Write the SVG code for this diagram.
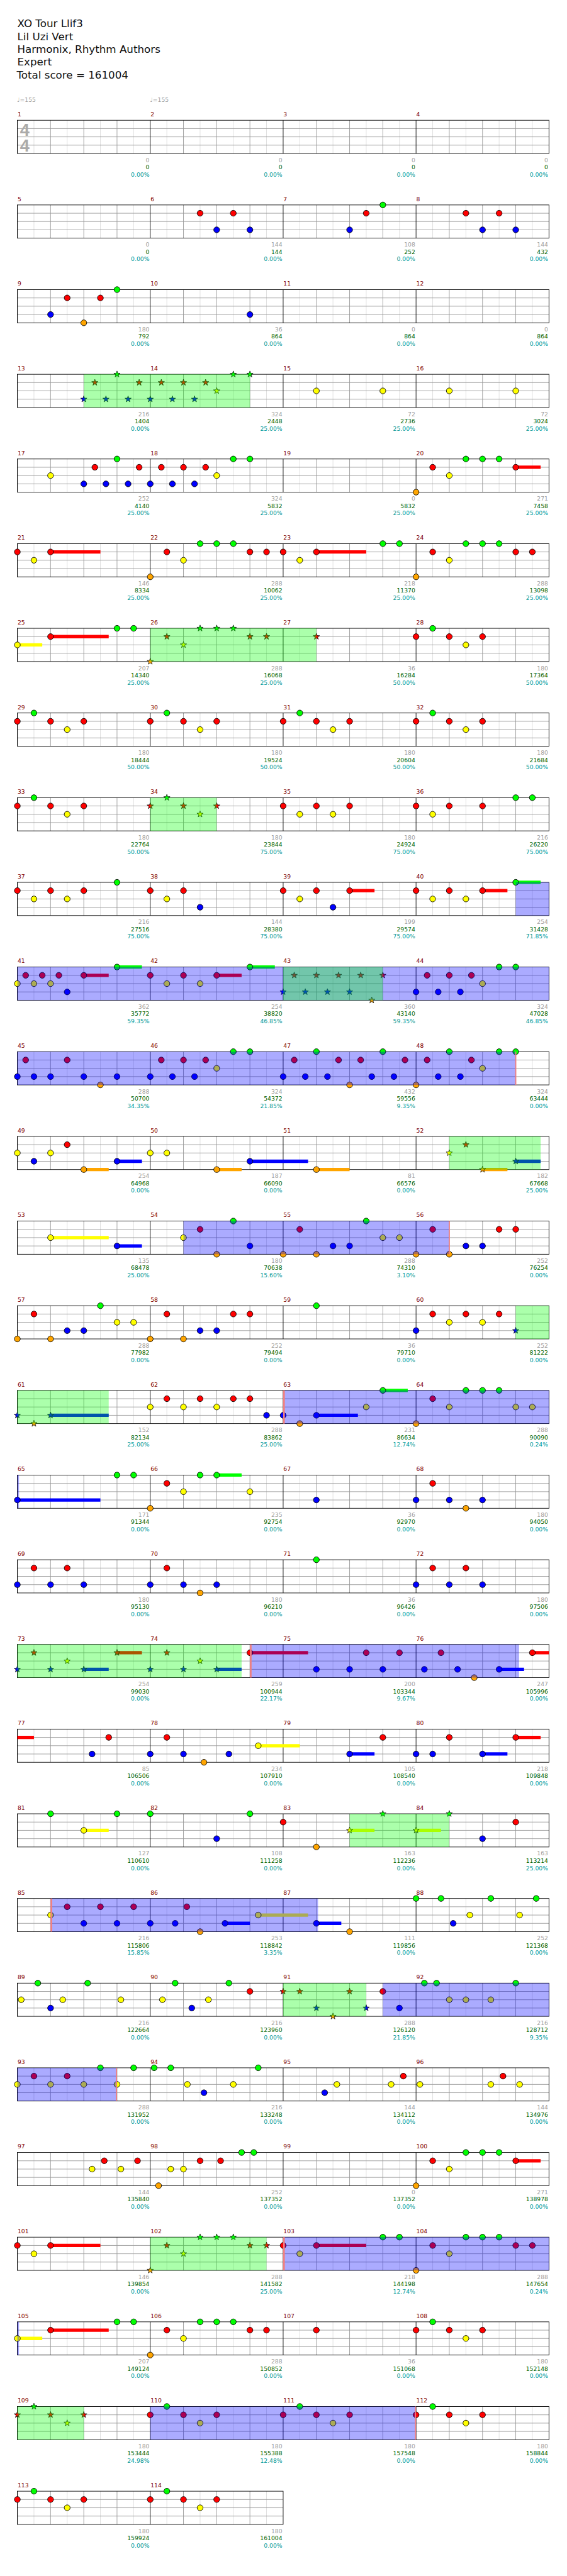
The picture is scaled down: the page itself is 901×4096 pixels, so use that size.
<svg xmlns="http://www.w3.org/2000/svg" xmlns:xlink="http://www.w3.org/1999/xlink" width="901" height="4096" viewBox="0 0 901 4096">
<style>
.t{font:19px "DejaVu Sans",sans-serif;fill:#111}
.tm{font:10.5px "DejaVu Sans",sans-serif;fill:#a0a0a0}
.mn{font:10.5px "DejaVu Sans",sans-serif;fill:#800000}
.a,.c,.p{font:10.5px "DejaVu Sans",sans-serif;text-anchor:end}
.a{fill:#a0a0a0}.c{fill:#006400}.p{fill:#009a9a}
.ts{font:bold 31px "Liberation Sans",sans-serif;fill:#aaa;text-anchor:middle}
.sp{fill:#0f0;fill-opacity:.33}
.so{fill:#00f;fill-opacity:.33}
.pk{fill:#f08080}
.kG,.kR,.kY,.kB,.kO{stroke-width:6;fill:none}
.kG{stroke:#0f0}.kR{stroke:#f00}.kY{stroke:#ff0}.kB{stroke:#00f}.kO{stroke:#ffa500}
</style>
<defs>
<g id="gm">
<path d="M30 0V60M90 0V60M150 0V60M210 0V60" stroke="#ddd"/>
<path d="M60 0V60M120 0V60M180 0V60M0 15H240M0 30H240M0 45H240" stroke="#999"/>
<path d="M0 0V60" stroke="#000"/>
</g>
<g id="g4"><use href="#gm"/><use href="#gm" x="240"/><use href="#gm" x="480"/><use href="#gm" x="720"/><rect width="960" height="60" fill="none" stroke="#000"/></g>
<g id="g2"><use href="#gm"/><use href="#gm" x="240"/><rect width="480" height="60" fill="none" stroke="#000"/></g>
<circle id="nc" r="5.3" stroke="#000"/>
<use id="G" href="#nc" fill="#0f0"/>
<use id="R" href="#nc" y="15" fill="#f00"/>
<use id="Y" href="#nc" y="30" fill="#ff0"/>
<use id="B" href="#nc" y="45" fill="#00f"/>
<use id="O" href="#nc" y="60" fill="#ffa500"/>
<polygon id="st" points="0,-6 1.41,-1.94 5.71,-1.85 2.28,0.74 3.53,4.85 0,2.4 -3.53,4.85 -2.28,0.74 -5.71,-1.85 -1.41,-1.94" stroke="#000" stroke-width=".8"/>
<use id="sG" href="#st" fill="#0f0"/>
<use id="sR" href="#st" y="15" fill="#f00"/>
<use id="sY" href="#st" y="30" fill="#ff0"/>
<use id="sB" href="#st" y="45" fill="#00f"/>
<use id="sO" href="#st" y="60" fill="#ffa500"/>
</defs>
<rect width="901" height="4096" fill="#fff"/>
<g transform="scale(0.88)">
<g id="header">
<text class="t" x="31.3" y="49.3">XO Tour Llif3</text>
<text class="t" x="31.3" y="72.3">Lil Uzi Vert</text>
<text class="t" x="31.3" y="95.3">Harmonix, Rhythm Authors</text>
<text class="t" x="31.3" y="118.3">Expert</text>
<text class="t" x="30" y="141.7">Total score = 161004</text>
<text class="tm" x="31" y="184">♩=155</text>
<text class="tm" x="271" y="184">♩=155</text>
</g>

<g id="row1" transform="translate(31.3,217.3)">
<use href="#g4"/>
<text class="ts" x="13.4" y="27.7">4</text><text class="ts" x="13.4" y="56.7">4</text>
<text class="mn" x=".5" y="-7">1</text><text class="mn" x="240.5" y="-7">2</text><text class="mn" x="480.5" y="-7">3</text><text class="mn" x="720.5" y="-7">4</text>
<text class="a" x="238.5" y="75.5">0</text><text class="c" x="238.5" y="88.5">0</text><text class="p" x="238.5" y="101.7">0.00%</text>
<text class="a" x="478.5" y="75.5">0</text><text class="c" x="478.5" y="88.5">0</text><text class="p" x="478.5" y="101.7">0.00%</text>
<text class="a" x="718.5" y="75.5">0</text><text class="c" x="718.5" y="88.5">0</text><text class="p" x="718.5" y="101.7">0.00%</text>
<text class="a" x="958.5" y="75.5">0</text><text class="c" x="958.5" y="88.5">0</text><text class="p" x="958.5" y="101.7">0.00%</text>
</g>

<g id="row2" transform="translate(31.3,370.3)">
<use href="#g4"/>
<use href="#R" x="330"/><use href="#R" x="390"/><use href="#B" x="360"/><use href="#B" x="420"/><use href="#B" x="600"/><use href="#R" x="630"/><use href="#G" x="660"/><use href="#R" x="810"/><use href="#R" x="870"/><use href="#B" x="840"/><use href="#B" x="900"/>
<text class="mn" x=".5" y="-7">5</text><text class="mn" x="240.5" y="-7">6</text><text class="mn" x="480.5" y="-7">7</text><text class="mn" x="720.5" y="-7">8</text>
<text class="a" x="238.5" y="75.5">0</text><text class="c" x="238.5" y="88.5">0</text><text class="p" x="238.5" y="101.7">0.00%</text>
<text class="a" x="478.5" y="75.5">144</text><text class="c" x="478.5" y="88.5">144</text><text class="p" x="478.5" y="101.7">0.00%</text>
<text class="a" x="718.5" y="75.5">108</text><text class="c" x="718.5" y="88.5">252</text><text class="p" x="718.5" y="101.7">0.00%</text>
<text class="a" x="958.5" y="75.5">144</text><text class="c" x="958.5" y="88.5">432</text><text class="p" x="958.5" y="101.7">0.00%</text>
</g>

<g id="row3" transform="translate(31.3,523.3)">
<use href="#g4"/>
<use href="#B" x="60"/><use href="#R" x="90"/><use href="#O" x="120"/><use href="#R" x="150"/><use href="#G" x="180"/><use href="#B" x="420"/>
<text class="mn" x=".5" y="-7">9</text><text class="mn" x="240.5" y="-7">10</text><text class="mn" x="480.5" y="-7">11</text><text class="mn" x="720.5" y="-7">12</text>
<text class="a" x="238.5" y="75.5">180</text><text class="c" x="238.5" y="88.5">792</text><text class="p" x="238.5" y="101.7">0.00%</text>
<text class="a" x="478.5" y="75.5">36</text><text class="c" x="478.5" y="88.5">864</text><text class="p" x="478.5" y="101.7">0.00%</text>
<text class="a" x="718.5" y="75.5">0</text><text class="c" x="718.5" y="88.5">864</text><text class="p" x="718.5" y="101.7">0.00%</text>
<text class="a" x="958.5" y="75.5">0</text><text class="c" x="958.5" y="88.5">864</text><text class="p" x="958.5" y="101.7">0.00%</text>
</g>

<g id="row4" transform="translate(31.3,676.3)">
<use href="#g4"/>
<use href="#sB" x="120"/><use href="#sR" x="140"/><use href="#sB" x="160"/><use href="#sG" x="180"/><use href="#sB" x="200"/><use href="#sR" x="220"/><use href="#sB" x="240"/><use href="#sR" x="260"/><use href="#sB" x="280"/><use href="#sR" x="300"/><use href="#sB" x="320"/><use href="#sR" x="340"/><use href="#sY" x="360"/><use href="#sG" x="390"/><use href="#sG" x="420"/>
<use href="#Y" x="540"/><use href="#Y" x="660"/><use href="#Y" x="780"/><use href="#Y" x="900"/>
<rect class="sp" x="120" width="300" height="60"/>
<text class="mn" x=".5" y="-7">13</text><text class="mn" x="240.5" y="-7">14</text><text class="mn" x="480.5" y="-7">15</text><text class="mn" x="720.5" y="-7">16</text>
<text class="a" x="238.5" y="75.5">216</text><text class="c" x="238.5" y="88.5">1404</text><text class="p" x="238.5" y="101.7">0.00%</text>
<text class="a" x="478.5" y="75.5">324</text><text class="c" x="478.5" y="88.5">2448</text><text class="p" x="478.5" y="101.7">25.00%</text>
<text class="a" x="718.5" y="75.5">72</text><text class="c" x="718.5" y="88.5">2736</text><text class="p" x="718.5" y="101.7">25.00%</text>
<text class="a" x="958.5" y="75.5">72</text><text class="c" x="958.5" y="88.5">3024</text><text class="p" x="958.5" y="101.7">25.00%</text>
</g>

<g id="row5" transform="translate(31.3,829.3)">
<use href="#g4"/>
<path class="kR" d="M900 15H945"/>
<use href="#Y" x="60"/><use href="#B" x="120"/><use href="#R" x="140"/><use href="#B" x="160"/><use href="#G" x="180"/><use href="#B" x="200"/><use href="#R" x="220"/><use href="#B" x="240"/><use href="#R" x="260"/><use href="#B" x="280"/><use href="#R" x="300"/><use href="#B" x="320"/><use href="#R" x="340"/><use href="#Y" x="360"/><use href="#G" x="390"/><use href="#G" x="420"/>
<use href="#O" x="720"/><use href="#R" x="750"/><use href="#Y" x="780"/><use href="#G" x="810"/><use href="#G" x="840"/><use href="#G" x="870"/><use href="#R" x="900"/>
<text class="mn" x=".5" y="-7">17</text><text class="mn" x="240.5" y="-7">18</text><text class="mn" x="480.5" y="-7">19</text><text class="mn" x="720.5" y="-7">20</text>
<text class="a" x="238.5" y="75.5">252</text><text class="c" x="238.5" y="88.5">4140</text><text class="p" x="238.5" y="101.7">25.00%</text>
<text class="a" x="478.5" y="75.5">324</text><text class="c" x="478.5" y="88.5">5832</text><text class="p" x="478.5" y="101.7">25.00%</text>
<text class="a" x="718.5" y="75.5">0</text><text class="c" x="718.5" y="88.5">5832</text><text class="p" x="718.5" y="101.7">25.00%</text>
<text class="a" x="958.5" y="75.5">271</text><text class="c" x="958.5" y="88.5">7458</text><text class="p" x="958.5" y="101.7">25.00%</text>
</g>

<g id="row6" transform="translate(31.3,982.3)">
<use href="#g4"/>
<path class="kR" d="M60 15H150M540 15H630"/>
<use href="#R" x="0"/><use href="#Y" x="30"/><use href="#R" x="60"/><use href="#O" x="240"/><use href="#R" x="270"/><use href="#Y" x="300"/><use href="#G" x="330"/><use href="#G" x="360"/><use href="#G" x="390"/><use href="#R" x="420"/><use href="#R" x="450"/>
<use href="#R" x="480"/><use href="#Y" x="510"/><use href="#R" x="540"/><use href="#G" x="660"/><use href="#G" x="690"/>
<use href="#O" x="720"/><use href="#R" x="750"/><use href="#Y" x="780"/><use href="#G" x="810"/><use href="#G" x="840"/><use href="#G" x="870"/><use href="#R" x="900"/><use href="#R" x="930"/>
<text class="mn" x=".5" y="-7">21</text><text class="mn" x="240.5" y="-7">22</text><text class="mn" x="480.5" y="-7">23</text><text class="mn" x="720.5" y="-7">24</text>
<text class="a" x="238.5" y="75.5">146</text><text class="c" x="238.5" y="88.5">8334</text><text class="p" x="238.5" y="101.7">25.00%</text>
<text class="a" x="478.5" y="75.5">288</text><text class="c" x="478.5" y="88.5">10062</text><text class="p" x="478.5" y="101.7">25.00%</text>
<text class="a" x="718.5" y="75.5">218</text><text class="c" x="718.5" y="88.5">11370</text><text class="p" x="718.5" y="101.7">25.00%</text>
<text class="a" x="958.5" y="75.5">288</text><text class="c" x="958.5" y="88.5">13098</text><text class="p" x="958.5" y="101.7">25.00%</text>
</g>

<g id="row7" transform="translate(31.3,1135.3)">
<use href="#g4"/>
<path class="kY" d="M0 30H45"/><path class="kR" d="M60 15H165"/>
<use href="#Y" x="0"/><use href="#R" x="60"/><use href="#G" x="180"/><use href="#G" x="210"/>
<use href="#sO" x="240"/><use href="#sR" x="270"/><use href="#sY" x="300"/><use href="#sG" x="330"/><use href="#sG" x="360"/><use href="#sG" x="390"/><use href="#sR" x="420"/><use href="#sR" x="450"/><use href="#sR" x="540"/>
<use href="#R" x="720"/><use href="#G" x="750"/><use href="#R" x="780"/><use href="#Y" x="810"/><use href="#R" x="840"/>
<rect class="sp" x="240" width="300" height="60"/>
<text class="mn" x=".5" y="-7">25</text><text class="mn" x="240.5" y="-7">26</text><text class="mn" x="480.5" y="-7">27</text><text class="mn" x="720.5" y="-7">28</text>
<text class="a" x="238.5" y="75.5">207</text><text class="c" x="238.5" y="88.5">14340</text><text class="p" x="238.5" y="101.7">25.00%</text>
<text class="a" x="478.5" y="75.5">288</text><text class="c" x="478.5" y="88.5">16068</text><text class="p" x="478.5" y="101.7">25.00%</text>
<text class="a" x="718.5" y="75.5">36</text><text class="c" x="718.5" y="88.5">16284</text><text class="p" x="718.5" y="101.7">50.00%</text>
<text class="a" x="958.5" y="75.5">180</text><text class="c" x="958.5" y="88.5">17364</text><text class="p" x="958.5" y="101.7">50.00%</text>
</g>

<g id="row8" transform="translate(31.3,1288.3)">
<use href="#g4"/>
<use href="#R" x="0"/><use href="#G" x="30"/><use href="#R" x="60"/><use href="#Y" x="90"/><use href="#R" x="120"/>
<use href="#R" x="240"/><use href="#G" x="270"/><use href="#R" x="300"/><use href="#Y" x="330"/><use href="#R" x="360"/>
<use href="#R" x="480"/><use href="#G" x="510"/><use href="#R" x="540"/><use href="#Y" x="570"/><use href="#R" x="600"/>
<use href="#R" x="720"/><use href="#G" x="750"/><use href="#R" x="780"/><use href="#Y" x="810"/><use href="#R" x="840"/>
<text class="mn" x=".5" y="-7">29</text><text class="mn" x="240.5" y="-7">30</text><text class="mn" x="480.5" y="-7">31</text><text class="mn" x="720.5" y="-7">32</text>
<text class="a" x="238.5" y="75.5">180</text><text class="c" x="238.5" y="88.5">18444</text><text class="p" x="238.5" y="101.7">50.00%</text>
<text class="a" x="478.5" y="75.5">180</text><text class="c" x="478.5" y="88.5">19524</text><text class="p" x="478.5" y="101.7">50.00%</text>
<text class="a" x="718.5" y="75.5">180</text><text class="c" x="718.5" y="88.5">20604</text><text class="p" x="718.5" y="101.7">50.00%</text>
<text class="a" x="958.5" y="75.5">180</text><text class="c" x="958.5" y="88.5">21684</text><text class="p" x="958.5" y="101.7">50.00%</text>
</g>

<g id="row9" transform="translate(31.3,1441.3)">
<use href="#g4"/>
<use href="#R" x="0"/><use href="#G" x="30"/><use href="#R" x="60"/><use href="#Y" x="90"/><use href="#R" x="120"/>
<use href="#sR" x="240"/><use href="#sG" x="270"/><use href="#sR" x="300"/><use href="#sY" x="330"/><use href="#sR" x="360"/>
<use href="#R" x="480"/><use href="#Y" x="510"/><use href="#R" x="540"/><use href="#Y" x="570"/><use href="#R" x="600"/>
<use href="#R" x="720"/><use href="#Y" x="750"/><use href="#R" x="780"/><use href="#R" x="840"/><use href="#G" x="900"/><use href="#G" x="930"/>
<rect class="sp" x="240" width="120" height="60"/>
<text class="mn" x=".5" y="-7">33</text><text class="mn" x="240.5" y="-7">34</text><text class="mn" x="480.5" y="-7">35</text><text class="mn" x="720.5" y="-7">36</text>
<text class="a" x="238.5" y="75.5">180</text><text class="c" x="238.5" y="88.5">22764</text><text class="p" x="238.5" y="101.7">50.00%</text>
<text class="a" x="478.5" y="75.5">180</text><text class="c" x="478.5" y="88.5">23844</text><text class="p" x="478.5" y="101.7">75.00%</text>
<text class="a" x="718.5" y="75.5">180</text><text class="c" x="718.5" y="88.5">24924</text><text class="p" x="718.5" y="101.7">75.00%</text>
<text class="a" x="958.5" y="75.5">216</text><text class="c" x="958.5" y="88.5">26220</text><text class="p" x="958.5" y="101.7">75.00%</text>
</g>

<g id="row10" transform="translate(31.3,1594.3)">
<use href="#g4"/>
<path class="kR" d="M600 15H645M840 15H885"/><path class="kG" d="M900 0H945"/>
<use href="#R" x="0"/><use href="#Y" x="30"/><use href="#R" x="60"/><use href="#Y" x="90"/><use href="#R" x="120"/><use href="#G" x="180"/>
<use href="#R" x="240"/><use href="#Y" x="270"/><use href="#R" x="300"/><use href="#B" x="330"/>
<use href="#R" x="480"/><use href="#Y" x="510"/><use href="#R" x="540"/><use href="#B" x="570"/><use href="#R" x="600"/>
<use href="#R" x="720"/><use href="#Y" x="750"/><use href="#R" x="780"/><use href="#Y" x="810"/><use href="#R" x="840"/><use href="#G" x="900"/>
<rect class="so" x="900" width="60" height="60"/>
<text class="mn" x=".5" y="-7">37</text><text class="mn" x="240.5" y="-7">38</text><text class="mn" x="480.5" y="-7">39</text><text class="mn" x="720.5" y="-7">40</text>
<text class="a" x="238.5" y="75.5">216</text><text class="c" x="238.5" y="88.5">27516</text><text class="p" x="238.5" y="101.7">75.00%</text>
<text class="a" x="478.5" y="75.5">144</text><text class="c" x="478.5" y="88.5">28380</text><text class="p" x="478.5" y="101.7">75.00%</text>
<text class="a" x="718.5" y="75.5">199</text><text class="c" x="718.5" y="88.5">29574</text><text class="p" x="718.5" y="101.7">75.00%</text>
<text class="a" x="958.5" y="75.5">254</text><text class="c" x="958.5" y="88.5">31428</text><text class="p" x="958.5" y="101.7">71.85%</text>
</g>

<g id="row11" transform="translate(31.3,1747.3)">
<use href="#g4"/>
<path class="kR" d="M120 15H165M360 15H405"/><path class="kG" d="M180 0H225M420 0H465"/>
<use href="#Y" x="0"/><use href="#R" x="15"/><use href="#Y" x="30"/><use href="#R" x="45"/><use href="#Y" x="60"/><use href="#R" x="75"/><use href="#B" x="90"/><use href="#R" x="120"/><use href="#G" x="180"/>
<use href="#R" x="240"/><use href="#Y" x="270"/><use href="#R" x="300"/><use href="#Y" x="330"/><use href="#R" x="360"/><use href="#G" x="420"/>
<use href="#sB" x="480"/><use href="#sR" x="500"/><use href="#sB" x="520"/><use href="#sR" x="540"/><use href="#sB" x="560"/><use href="#sR" x="580"/><use href="#sB" x="600"/><use href="#sR" x="620"/><use href="#sO" x="640"/><use href="#sR" x="660"/>
<use href="#B" x="720"/><use href="#R" x="740"/><use href="#B" x="760"/><use href="#R" x="780"/><use href="#B" x="800"/><use href="#R" x="820"/><use href="#Y" x="840"/><use href="#G" x="870"/><use href="#G" x="900"/>
<rect class="so" width="960" height="60"/>
<rect class="sp" x="480" width="180" height="60"/>
<text class="mn" x=".5" y="-7">41</text><text class="mn" x="240.5" y="-7">42</text><text class="mn" x="480.5" y="-7">43</text><text class="mn" x="720.5" y="-7">44</text>
<text class="a" x="238.5" y="75.5">362</text><text class="c" x="238.5" y="88.5">35772</text><text class="p" x="238.5" y="101.7">59.35%</text>
<text class="a" x="478.5" y="75.5">254</text><text class="c" x="478.5" y="88.5">38820</text><text class="p" x="478.5" y="101.7">46.85%</text>
<text class="a" x="718.5" y="75.5">360</text><text class="c" x="718.5" y="88.5">43140</text><text class="p" x="718.5" y="101.7">59.35%</text>
<text class="a" x="958.5" y="75.5">324</text><text class="c" x="958.5" y="88.5">47028</text><text class="p" x="958.5" y="101.7">46.85%</text>
</g>

<g id="row12" transform="translate(31.3,1900.3)">
<use href="#g4"/>
<use href="#B" x="0"/><use href="#R" x="15"/><use href="#B" x="30"/><use href="#B" x="60"/><use href="#R" x="90"/><use href="#B" x="120"/><use href="#O" x="150"/><use href="#B" x="180"/>
<use href="#B" x="240"/><use href="#R" x="260"/><use href="#B" x="280"/><use href="#R" x="300"/><use href="#B" x="320"/><use href="#R" x="340"/><use href="#Y" x="360"/><use href="#G" x="390"/><use href="#G" x="420"/>
<use href="#B" x="480"/><use href="#R" x="500"/><use href="#B" x="520"/><use href="#G" x="540"/><use href="#B" x="560"/><use href="#R" x="580"/><use href="#O" x="600"/><use href="#R" x="620"/><use href="#B" x="640"/><use href="#G" x="660"/><use href="#B" x="680"/><use href="#R" x="700"/>
<use href="#O" x="720"/><use href="#R" x="740"/><use href="#B" x="760"/><use href="#G" x="780"/><use href="#B" x="800"/><use href="#R" x="820"/><use href="#Y" x="840"/><use href="#G" x="870"/><use href="#G" x="900"/>
<rect class="so" width="900" height="60"/><rect class="pk" x="899" width="2" height="60"/>
<text class="mn" x=".5" y="-7">45</text><text class="mn" x="240.5" y="-7">46</text><text class="mn" x="480.5" y="-7">47</text><text class="mn" x="720.5" y="-7">48</text>
<text class="a" x="238.5" y="75.5">288</text><text class="c" x="238.5" y="88.5">50700</text><text class="p" x="238.5" y="101.7">34.35%</text>
<text class="a" x="478.5" y="75.5">324</text><text class="c" x="478.5" y="88.5">54372</text><text class="p" x="478.5" y="101.7">21.85%</text>
<text class="a" x="718.5" y="75.5">432</text><text class="c" x="718.5" y="88.5">59556</text><text class="p" x="718.5" y="101.7">9.35%</text>
<text class="a" x="958.5" y="75.5">324</text><text class="c" x="958.5" y="88.5">63444</text><text class="p" x="958.5" y="101.7">0.00%</text>
</g>

<g id="row13" transform="translate(31.3,2053.3)">
<use href="#g4"/>
<path class="kO" d="M120 60H165M360 60H405M540 60H600M840 60H885"/><path class="kB" d="M180 45H225M420 45H525M900 45H945"/>
<use href="#Y" x="0"/><use href="#B" x="30"/><use href="#Y" x="60"/><use href="#R" x="90"/><use href="#O" x="120"/><use href="#B" x="180"/>
<use href="#Y" x="240"/><use href="#Y" x="270"/><use href="#O" x="360"/><use href="#B" x="420"/><use href="#O" x="540"/>
<use href="#sY" x="780"/><use href="#sR" x="810"/><use href="#sO" x="840"/><use href="#sB" x="900"/>
<rect class="sp" x="780" width="165" height="60"/>
<text class="mn" x=".5" y="-7">49</text><text class="mn" x="240.5" y="-7">50</text><text class="mn" x="480.5" y="-7">51</text><text class="mn" x="720.5" y="-7">52</text>
<text class="a" x="238.5" y="75.5">254</text><text class="c" x="238.5" y="88.5">64968</text><text class="p" x="238.5" y="101.7">0.00%</text>
<text class="a" x="478.5" y="75.5">187</text><text class="c" x="478.5" y="88.5">66090</text><text class="p" x="478.5" y="101.7">0.00%</text>
<text class="a" x="718.5" y="75.5">81</text><text class="c" x="718.5" y="88.5">66576</text><text class="p" x="718.5" y="101.7">0.00%</text>
<text class="a" x="958.5" y="75.5">182</text><text class="c" x="958.5" y="88.5">67668</text><text class="p" x="958.5" y="101.7">25.00%</text>
</g>

<g id="row14" transform="translate(31.3,2206.3)">
<use href="#g4"/>
<path class="kY" d="M60 30H165"/><path class="kB" d="M180 45H225"/>
<use href="#Y" x="60"/><use href="#B" x="180"/>
<use href="#Y" x="300"/><use href="#R" x="330"/><use href="#O" x="360"/><use href="#G" x="390"/><use href="#B" x="420"/>
<use href="#O" x="480"/><use href="#R" x="510"/><use href="#O" x="540"/><use href="#B" x="570"/><use href="#B" x="600"/><use href="#G" x="630"/><use href="#Y" x="660"/><use href="#Y" x="690"/>
<use href="#O" x="720"/><use href="#R" x="750"/><use href="#O" x="780"/><use href="#B" x="810"/><use href="#B" x="840"/><use href="#R" x="870"/><use href="#R" x="900"/>
<rect class="so" x="300" width="480" height="60"/><rect class="pk" x="779" width="2" height="60"/>
<text class="mn" x=".5" y="-7">53</text><text class="mn" x="240.5" y="-7">54</text><text class="mn" x="480.5" y="-7">55</text><text class="mn" x="720.5" y="-7">56</text>
<text class="a" x="238.5" y="75.5">135</text><text class="c" x="238.5" y="88.5">68478</text><text class="p" x="238.5" y="101.7">25.00%</text>
<text class="a" x="478.5" y="75.5">180</text><text class="c" x="478.5" y="88.5">70638</text><text class="p" x="478.5" y="101.7">15.60%</text>
<text class="a" x="718.5" y="75.5">288</text><text class="c" x="718.5" y="88.5">74310</text><text class="p" x="718.5" y="101.7">3.10%</text>
<text class="a" x="958.5" y="75.5">252</text><text class="c" x="958.5" y="88.5">76254</text><text class="p" x="958.5" y="101.7">0.00%</text>
</g>

<g id="row15" transform="translate(31.3,2359.3)">
<use href="#g4"/>
<use href="#O" x="0"/><use href="#R" x="30"/><use href="#O" x="60"/><use href="#B" x="90"/><use href="#B" x="120"/><use href="#G" x="150"/><use href="#Y" x="180"/><use href="#Y" x="210"/>
<use href="#O" x="240"/><use href="#R" x="270"/><use href="#O" x="300"/><use href="#B" x="330"/><use href="#B" x="360"/><use href="#R" x="390"/><use href="#R" x="420"/>
<use href="#G" x="540"/>
<use href="#B" x="720"/><use href="#R" x="750"/><use href="#Y" x="780"/><use href="#R" x="810"/><use href="#Y" x="840"/><use href="#R" x="870"/><use href="#sB" x="900"/>
<rect class="sp" x="900" width="60" height="60"/>
<text class="mn" x=".5" y="-7">57</text><text class="mn" x="240.5" y="-7">58</text><text class="mn" x="480.5" y="-7">59</text><text class="mn" x="720.5" y="-7">60</text>
<text class="a" x="238.5" y="75.5">288</text><text class="c" x="238.5" y="88.5">77982</text><text class="p" x="238.5" y="101.7">0.00%</text>
<text class="a" x="478.5" y="75.5">252</text><text class="c" x="478.5" y="88.5">79494</text><text class="p" x="478.5" y="101.7">0.00%</text>
<text class="a" x="718.5" y="75.5">36</text><text class="c" x="718.5" y="88.5">79710</text><text class="p" x="718.5" y="101.7">0.00%</text>
<text class="a" x="958.5" y="75.5">252</text><text class="c" x="958.5" y="88.5">81222</text><text class="p" x="958.5" y="101.7">0.00%</text>
</g>

<g id="row16" transform="translate(31.3,2512.3)">
<use href="#g4"/>
<path class="kB" d="M60 45H165M540 45H615"/><path class="kG" d="M660 0H705"/>
<use href="#sB" x="0"/><use href="#sO" x="30"/><use href="#sB" x="60"/>
<use href="#Y" x="240"/><use href="#R" x="270"/><use href="#Y" x="300"/><use href="#R" x="330"/><use href="#Y" x="360"/><use href="#R" x="390"/><use href="#R" x="420"/><use href="#B" x="450"/><use href="#B" x="480"/>
<use href="#O" x="510"/><use href="#B" x="540"/><use href="#Y" x="630"/><use href="#G" x="660"/>
<use href="#O" x="720"/><use href="#R" x="750"/><use href="#Y" x="780"/><use href="#G" x="810"/><use href="#G" x="840"/><use href="#G" x="870"/><use href="#Y" x="900"/><use href="#Y" x="930"/>
<rect class="sp" width="165" height="60"/>
<rect class="so" x="480" width="480" height="60"/><rect class="pk" x="480" width="3" height="60"/>
<text class="mn" x=".5" y="-7">61</text><text class="mn" x="240.5" y="-7">62</text><text class="mn" x="480.5" y="-7">63</text><text class="mn" x="720.5" y="-7">64</text>
<text class="a" x="238.5" y="75.5">152</text><text class="c" x="238.5" y="88.5">82134</text><text class="p" x="238.5" y="101.7">25.00%</text>
<text class="a" x="478.5" y="75.5">288</text><text class="c" x="478.5" y="88.5">83862</text><text class="p" x="478.5" y="101.7">25.00%</text>
<text class="a" x="718.5" y="75.5">231</text><text class="c" x="718.5" y="88.5">86634</text><text class="p" x="718.5" y="101.7">12.74%</text>
<text class="a" x="958.5" y="75.5">288</text><text class="c" x="958.5" y="88.5">90090</text><text class="p" x="958.5" y="101.7">0.24%</text>
</g>

<g id="row17" transform="translate(31.3,2665.3)">
<use href="#g4"/>
<path class="kB" d="M0 45H150"/><path class="kG" d="M360 0H405"/>
<use href="#B" x="0"/><use href="#G" x="180"/><use href="#G" x="210"/>
<use href="#O" x="240"/><use href="#R" x="270"/><use href="#Y" x="300"/><use href="#G" x="330"/><use href="#G" x="360"/><use href="#Y" x="420"/>
<use href="#B" x="540"/>
<use href="#B" x="720"/><use href="#R" x="750"/><use href="#B" x="780"/><use href="#O" x="810"/><use href="#B" x="840"/>
<rect class="so" width="3" height="60"/>
<text class="mn" x=".5" y="-7">65</text><text class="mn" x="240.5" y="-7">66</text><text class="mn" x="480.5" y="-7">67</text><text class="mn" x="720.5" y="-7">68</text>
<text class="a" x="238.5" y="75.5">171</text><text class="c" x="238.5" y="88.5">91344</text><text class="p" x="238.5" y="101.7">0.00%</text>
<text class="a" x="478.5" y="75.5">235</text><text class="c" x="478.5" y="88.5">92754</text><text class="p" x="478.5" y="101.7">0.00%</text>
<text class="a" x="718.5" y="75.5">36</text><text class="c" x="718.5" y="88.5">92970</text><text class="p" x="718.5" y="101.7">0.00%</text>
<text class="a" x="958.5" y="75.5">180</text><text class="c" x="958.5" y="88.5">94050</text><text class="p" x="958.5" y="101.7">0.00%</text>
</g>

<g id="row18" transform="translate(31.3,2818.3)">
<use href="#g4"/>
<use href="#B" x="0"/><use href="#R" x="30"/><use href="#B" x="60"/><use href="#R" x="90"/><use href="#B" x="120"/>
<use href="#B" x="240"/><use href="#R" x="270"/><use href="#B" x="300"/><use href="#O" x="330"/><use href="#B" x="360"/>
<use href="#G" x="540"/>
<use href="#B" x="720"/><use href="#R" x="750"/><use href="#B" x="780"/><use href="#R" x="810"/><use href="#B" x="840"/>
<text class="mn" x=".5" y="-7">69</text><text class="mn" x="240.5" y="-7">70</text><text class="mn" x="480.5" y="-7">71</text><text class="mn" x="720.5" y="-7">72</text>
<text class="a" x="238.5" y="75.5">180</text><text class="c" x="238.5" y="88.5">95130</text><text class="p" x="238.5" y="101.7">0.00%</text>
<text class="a" x="478.5" y="75.5">180</text><text class="c" x="478.5" y="88.5">96210</text><text class="p" x="478.5" y="101.7">0.00%</text>
<text class="a" x="718.5" y="75.5">36</text><text class="c" x="718.5" y="88.5">96426</text><text class="p" x="718.5" y="101.7">0.00%</text>
<text class="a" x="958.5" y="75.5">180</text><text class="c" x="958.5" y="88.5">97506</text><text class="p" x="958.5" y="101.7">0.00%</text>
</g>

<g id="row19" transform="translate(31.3,2971.3)">
<use href="#g4"/>
<path class="kB" d="M120 45H165M360 45H405M870 45H915"/><path class="kR" d="M180 15H225M420 15H525M930 15H960"/>
<use href="#sB" x="0"/><use href="#sR" x="30"/><use href="#sB" x="60"/><use href="#sY" x="90"/><use href="#sB" x="120"/><use href="#sR" x="180"/>
<use href="#sB" x="240"/><use href="#sR" x="270"/><use href="#sB" x="300"/><use href="#sY" x="330"/><use href="#sB" x="360"/>
<use href="#R" x="420"/><use href="#B" x="540"/><use href="#B" x="600"/><use href="#R" x="630"/><use href="#B" x="660"/><use href="#R" x="690"/>
<use href="#B" x="735"/><use href="#R" x="765"/><use href="#B" x="795"/><use href="#O" x="825"/><use href="#B" x="870"/><use href="#R" x="930"/>
<rect class="sp" width="405" height="60"/>
<rect class="so" x="420" width="486" height="60"/><rect class="pk" x="420" width="3" height="60"/>
<text class="mn" x=".5" y="-7">73</text><text class="mn" x="240.5" y="-7">74</text><text class="mn" x="480.5" y="-7">75</text><text class="mn" x="720.5" y="-7">76</text>
<text class="a" x="238.5" y="75.5">254</text><text class="c" x="238.5" y="88.5">99030</text><text class="p" x="238.5" y="101.7">0.00%</text>
<text class="a" x="478.5" y="75.5">259</text><text class="c" x="478.5" y="88.5">100944</text><text class="p" x="478.5" y="101.7">22.17%</text>
<text class="a" x="718.5" y="75.5">200</text><text class="c" x="718.5" y="88.5">103344</text><text class="p" x="718.5" y="101.7">9.67%</text>
<text class="a" x="958.5" y="75.5">247</text><text class="c" x="958.5" y="88.5">105996</text><text class="p" x="958.5" y="101.7">0.00%</text>
</g>

<g id="row20" transform="translate(31.3,3124.3)">
<use href="#g4"/>
<path class="kR" d="M0 15H30M900 15H945"/><path class="kY" d="M435 30H510"/><path class="kB" d="M600 45H645M840 45H885"/>
<use href="#B" x="135"/><use href="#R" x="165"/>
<use href="#B" x="240"/><use href="#R" x="270"/><use href="#B" x="300"/><use href="#O" x="337"/><use href="#B" x="382"/><use href="#Y" x="435"/>
<use href="#B" x="600"/><use href="#R" x="660"/>
<use href="#B" x="720"/><use href="#B" x="750"/><use href="#R" x="780"/><use href="#B" x="840"/><use href="#R" x="900"/>
<text class="mn" x=".5" y="-7">77</text><text class="mn" x="240.5" y="-7">78</text><text class="mn" x="480.5" y="-7">79</text><text class="mn" x="720.5" y="-7">80</text>
<text class="a" x="238.5" y="75.5">85</text><text class="c" x="238.5" y="88.5">106506</text><text class="p" x="238.5" y="101.7">0.00%</text>
<text class="a" x="478.5" y="75.5">234</text><text class="c" x="478.5" y="88.5">107910</text><text class="p" x="478.5" y="101.7">0.00%</text>
<text class="a" x="718.5" y="75.5">105</text><text class="c" x="718.5" y="88.5">108540</text><text class="p" x="718.5" y="101.7">0.00%</text>
<text class="a" x="958.5" y="75.5">218</text><text class="c" x="958.5" y="88.5">109848</text><text class="p" x="958.5" y="101.7">0.00%</text>
</g>

<g id="row21" transform="translate(31.3,3277.3)">
<use href="#g4"/>
<path class="kY" d="M120 30H165M600 30H645M720 30H765"/>
<use href="#G" x="60"/><use href="#Y" x="120"/><use href="#G" x="180"/>
<use href="#G" x="240"/><use href="#B" x="360"/><use href="#G" x="420"/>
<use href="#R" x="480"/><use href="#O" x="540"/><use href="#sY" x="600"/><use href="#sG" x="660"/>
<use href="#sY" x="720"/><use href="#sG" x="780"/><use href="#B" x="840"/><use href="#R" x="900"/>
<rect class="sp" x="600" width="180" height="60"/>
<text class="mn" x=".5" y="-7">81</text><text class="mn" x="240.5" y="-7">82</text><text class="mn" x="480.5" y="-7">83</text><text class="mn" x="720.5" y="-7">84</text>
<text class="a" x="238.5" y="75.5">127</text><text class="c" x="238.5" y="88.5">110610</text><text class="p" x="238.5" y="101.7">0.00%</text>
<text class="a" x="478.5" y="75.5">108</text><text class="c" x="478.5" y="88.5">111258</text><text class="p" x="478.5" y="101.7">0.00%</text>
<text class="a" x="718.5" y="75.5">163</text><text class="c" x="718.5" y="88.5">112236</text><text class="p" x="718.5" y="101.7">0.00%</text>
<text class="a" x="958.5" y="75.5">163</text><text class="c" x="958.5" y="88.5">113214</text><text class="p" x="958.5" y="101.7">25.00%</text>
</g>

<g id="row22" transform="translate(31.3,3430.3)">
<use href="#g4"/>
<path class="kB" d="M375 45H420M540 45H585"/><path class="kY" d="M435 30H525"/>
<use href="#Y" x="60"/><use href="#R" x="90"/><use href="#B" x="120"/><use href="#R" x="150"/><use href="#B" x="180"/><use href="#R" x="210"/>
<use href="#B" x="240"/><use href="#B" x="285"/><use href="#R" x="306"/><use href="#O" x="330"/><use href="#B" x="375"/><use href="#Y" x="435"/>
<use href="#B" x="540"/><use href="#O" x="600"/>
<use href="#G" x="720"/><use href="#G" x="765"/><use href="#B" x="787"/><use href="#Y" x="817"/><use href="#G" x="855"/><use href="#Y" x="907"/><use href="#G" x="937"/>
<rect class="so" x="60" width="483" height="60"/><rect class="pk" x="60" width="3" height="60"/>
<text class="mn" x=".5" y="-7">85</text><text class="mn" x="240.5" y="-7">86</text><text class="mn" x="480.5" y="-7">87</text><text class="mn" x="720.5" y="-7">88</text>
<text class="a" x="238.5" y="75.5">216</text><text class="c" x="238.5" y="88.5">115806</text><text class="p" x="238.5" y="101.7">15.85%</text>
<text class="a" x="478.5" y="75.5">253</text><text class="c" x="478.5" y="88.5">118842</text><text class="p" x="478.5" y="101.7">3.35%</text>
<text class="a" x="718.5" y="75.5">111</text><text class="c" x="718.5" y="88.5">119856</text><text class="p" x="718.5" y="101.7">0.00%</text>
<text class="a" x="958.5" y="75.5">252</text><text class="c" x="958.5" y="88.5">121368</text><text class="p" x="958.5" y="101.7">0.00%</text>
</g>

<g id="row23" transform="translate(31.3,3583.3)">
<use href="#g4"/>
<use href="#Y" x="7"/><use href="#G" x="37"/><use href="#B" x="60"/><use href="#Y" x="82"/><use href="#G" x="127"/><use href="#Y" x="187"/>
<use href="#Y" x="262"/><use href="#G" x="285"/><use href="#B" x="315"/><use href="#Y" x="345"/><use href="#G" x="382"/><use href="#R" x="420"/>
<use href="#sR" x="480"/><use href="#sR" x="510"/><use href="#sB" x="540"/><use href="#sO" x="570"/><use href="#sR" x="600"/><use href="#sB" x="630"/>
<use href="#R" x="660"/><use href="#B" x="690"/><use href="#G" x="735"/><use href="#G" x="757"/><use href="#Y" x="780"/><use href="#Y" x="810"/><use href="#Y" x="855"/><use href="#G" x="900"/>
<rect class="sp" x="480" width="150" height="60"/>
<rect class="so" x="660" width="300" height="60"/>
<text class="mn" x=".5" y="-7">89</text><text class="mn" x="240.5" y="-7">90</text><text class="mn" x="480.5" y="-7">91</text><text class="mn" x="720.5" y="-7">92</text>
<text class="a" x="238.5" y="75.5">216</text><text class="c" x="238.5" y="88.5">122664</text><text class="p" x="238.5" y="101.7">0.00%</text>
<text class="a" x="478.5" y="75.5">216</text><text class="c" x="478.5" y="88.5">123960</text><text class="p" x="478.5" y="101.7">0.00%</text>
<text class="a" x="718.5" y="75.5">288</text><text class="c" x="718.5" y="88.5">126120</text><text class="p" x="718.5" y="101.7">21.85%</text>
<text class="a" x="958.5" y="75.5">216</text><text class="c" x="958.5" y="88.5">128712</text><text class="p" x="958.5" y="101.7">9.35%</text>
</g>

<g id="row24" transform="translate(31.3,3736.3)">
<use href="#g4"/>
<use href="#Y" x="0"/><use href="#R" x="30"/><use href="#Y" x="60"/><use href="#R" x="90"/><use href="#Y" x="120"/><use href="#G" x="150"/><use href="#Y" x="180"/><use href="#G" x="210"/>
<use href="#G" x="247"/><use href="#G" x="277"/><use href="#Y" x="307"/><use href="#B" x="337"/><use href="#Y" x="390"/><use href="#G" x="435"/>
<use href="#B" x="555"/><use href="#Y" x="577"/><use href="#Y" x="675"/><use href="#R" x="697"/>
<use href="#Y" x="727"/><use href="#Y" x="855"/><use href="#R" x="877"/><use href="#Y" x="907"/>
<rect class="so" width="180" height="60"/><rect class="pk" x="178" width="2" height="60"/>
<text class="mn" x=".5" y="-7">93</text><text class="mn" x="240.5" y="-7">94</text><text class="mn" x="480.5" y="-7">95</text><text class="mn" x="720.5" y="-7">96</text>
<text class="a" x="238.5" y="75.5">288</text><text class="c" x="238.5" y="88.5">131952</text><text class="p" x="238.5" y="101.7">0.00%</text>
<text class="a" x="478.5" y="75.5">216</text><text class="c" x="478.5" y="88.5">133248</text><text class="p" x="478.5" y="101.7">0.00%</text>
<text class="a" x="718.5" y="75.5">144</text><text class="c" x="718.5" y="88.5">134112</text><text class="p" x="718.5" y="101.7">0.00%</text>
<text class="a" x="958.5" y="75.5">144</text><text class="c" x="958.5" y="88.5">134976</text><text class="p" x="958.5" y="101.7">0.00%</text>
</g>

<g id="row25" transform="translate(31.3,3889.3)">
<use href="#g4"/>
<path class="kR" d="M900 15H945"/>
<use href="#Y" x="135"/><use href="#R" x="157"/><use href="#Y" x="187"/><use href="#R" x="217"/>
<use href="#O" x="255"/><use href="#Y" x="277"/><use href="#Y" x="300"/><use href="#R" x="330"/><use href="#R" x="367"/><use href="#G" x="405"/><use href="#G" x="427"/>
<use href="#O" x="720"/><use href="#R" x="750"/><use href="#Y" x="780"/><use href="#G" x="810"/><use href="#G" x="840"/><use href="#G" x="870"/><use href="#R" x="900"/>
<text class="mn" x=".5" y="-7">97</text><text class="mn" x="240.5" y="-7">98</text><text class="mn" x="480.5" y="-7">99</text><text class="mn" x="720.5" y="-7">100</text>
<text class="a" x="238.5" y="75.5">144</text><text class="c" x="238.5" y="88.5">135840</text><text class="p" x="238.5" y="101.7">0.00%</text>
<text class="a" x="478.5" y="75.5">252</text><text class="c" x="478.5" y="88.5">137352</text><text class="p" x="478.5" y="101.7">0.00%</text>
<text class="a" x="718.5" y="75.5">0</text><text class="c" x="718.5" y="88.5">137352</text><text class="p" x="718.5" y="101.7">0.00%</text>
<text class="a" x="958.5" y="75.5">271</text><text class="c" x="958.5" y="88.5">138978</text><text class="p" x="958.5" y="101.7">0.00%</text>
</g>

<g id="row26" transform="translate(31.3,4042.3)">
<use href="#g4"/>
<path class="kR" d="M60 15H150M540 15H630"/>
<use href="#R" x="0"/><use href="#Y" x="30"/><use href="#R" x="60"/>
<use href="#sO" x="240"/><use href="#sR" x="270"/><use href="#sY" x="300"/><use href="#sG" x="330"/><use href="#sG" x="360"/><use href="#sG" x="390"/><use href="#sR" x="420"/><use href="#sR" x="450"/>
<use href="#R" x="480"/><use href="#Y" x="510"/><use href="#R" x="540"/><use href="#G" x="660"/><use href="#G" x="690"/>
<use href="#O" x="720"/><use href="#R" x="750"/><use href="#Y" x="780"/><use href="#G" x="810"/><use href="#G" x="840"/><use href="#G" x="870"/><use href="#R" x="900"/><use href="#R" x="930"/>
<rect class="sp" x="240" width="210" height="60"/>
<rect class="so" x="480" width="480" height="60"/><rect class="pk" x="480" width="3" height="60"/>
<text class="mn" x=".5" y="-7">101</text><text class="mn" x="240.5" y="-7">102</text><text class="mn" x="480.5" y="-7">103</text><text class="mn" x="720.5" y="-7">104</text>
<text class="a" x="238.5" y="75.5">146</text><text class="c" x="238.5" y="88.5">139854</text><text class="p" x="238.5" y="101.7">0.00%</text>
<text class="a" x="478.5" y="75.5">288</text><text class="c" x="478.5" y="88.5">141582</text><text class="p" x="478.5" y="101.7">25.00%</text>
<text class="a" x="718.5" y="75.5">218</text><text class="c" x="718.5" y="88.5">144198</text><text class="p" x="718.5" y="101.7">12.74%</text>
<text class="a" x="958.5" y="75.5">288</text><text class="c" x="958.5" y="88.5">147654</text><text class="p" x="958.5" y="101.7">0.24%</text>
</g>

<g id="row27" transform="translate(31.3,4195.3)">
<use href="#g4"/>
<path class="kY" d="M0 30H45"/><path class="kR" d="M60 15H165"/>
<use href="#Y" x="0"/><use href="#R" x="60"/><use href="#G" x="180"/><use href="#G" x="210"/>
<use href="#O" x="240"/><use href="#R" x="270"/><use href="#Y" x="300"/><use href="#G" x="330"/><use href="#G" x="360"/><use href="#G" x="390"/><use href="#R" x="420"/><use href="#R" x="450"/>
<use href="#R" x="540"/>
<use href="#R" x="720"/><use href="#G" x="750"/><use href="#R" x="780"/><use href="#Y" x="810"/><use href="#R" x="840"/>
<rect class="so" width="3" height="60"/>
<text class="mn" x=".5" y="-7">105</text><text class="mn" x="240.5" y="-7">106</text><text class="mn" x="480.5" y="-7">107</text><text class="mn" x="720.5" y="-7">108</text>
<text class="a" x="238.5" y="75.5">207</text><text class="c" x="238.5" y="88.5">149124</text><text class="p" x="238.5" y="101.7">0.00%</text>
<text class="a" x="478.5" y="75.5">288</text><text class="c" x="478.5" y="88.5">150852</text><text class="p" x="478.5" y="101.7">0.00%</text>
<text class="a" x="718.5" y="75.5">36</text><text class="c" x="718.5" y="88.5">151068</text><text class="p" x="718.5" y="101.7">0.00%</text>
<text class="a" x="958.5" y="75.5">180</text><text class="c" x="958.5" y="88.5">152148</text><text class="p" x="958.5" y="101.7">0.00%</text>
</g>

<g id="row28" transform="translate(31.3,4348.3)">
<use href="#g4"/>
<use href="#sR" x="0"/><use href="#sG" x="30"/><use href="#sR" x="60"/><use href="#sY" x="90"/><use href="#sR" x="120"/>
<use href="#R" x="240"/><use href="#G" x="270"/><use href="#R" x="300"/><use href="#Y" x="330"/><use href="#R" x="360"/>
<use href="#R" x="480"/><use href="#G" x="510"/><use href="#R" x="540"/><use href="#Y" x="570"/><use href="#R" x="600"/>
<use href="#R" x="720"/><use href="#G" x="750"/><use href="#R" x="780"/><use href="#Y" x="810"/><use href="#R" x="840"/>
<rect class="sp" width="120" height="60"/>
<rect class="so" x="240" width="480" height="60"/><rect class="pk" x="718" width="2" height="60"/>
<text class="mn" x=".5" y="-7">109</text><text class="mn" x="240.5" y="-7">110</text><text class="mn" x="480.5" y="-7">111</text><text class="mn" x="720.5" y="-7">112</text>
<text class="a" x="238.5" y="75.5">180</text><text class="c" x="238.5" y="88.5">153444</text><text class="p" x="238.5" y="101.7">24.98%</text>
<text class="a" x="478.5" y="75.5">180</text><text class="c" x="478.5" y="88.5">155388</text><text class="p" x="478.5" y="101.7">12.48%</text>
<text class="a" x="718.5" y="75.5">180</text><text class="c" x="718.5" y="88.5">157548</text><text class="p" x="718.5" y="101.7">0.00%</text>
<text class="a" x="958.5" y="75.5">180</text><text class="c" x="958.5" y="88.5">158844</text><text class="p" x="958.5" y="101.7">0.00%</text>
</g>

<g id="row29" transform="translate(31.3,4501.3)">
<use href="#g2"/>
<use href="#R" x="0"/><use href="#G" x="30"/><use href="#R" x="60"/><use href="#Y" x="90"/><use href="#R" x="120"/>
<use href="#R" x="240"/><use href="#G" x="270"/><use href="#R" x="300"/><use href="#Y" x="330"/><use href="#R" x="360"/>
<text class="mn" x=".5" y="-7">113</text><text class="mn" x="240.5" y="-7">114</text>
<text class="a" x="238.5" y="75.5">180</text><text class="c" x="238.5" y="88.5">159924</text><text class="p" x="238.5" y="101.7">0.00%</text>
<text class="a" x="478.5" y="75.5">180</text><text class="c" x="478.5" y="88.5">161004</text><text class="p" x="478.5" y="101.7">0.00%</text>
</g>
</g>
</svg>
